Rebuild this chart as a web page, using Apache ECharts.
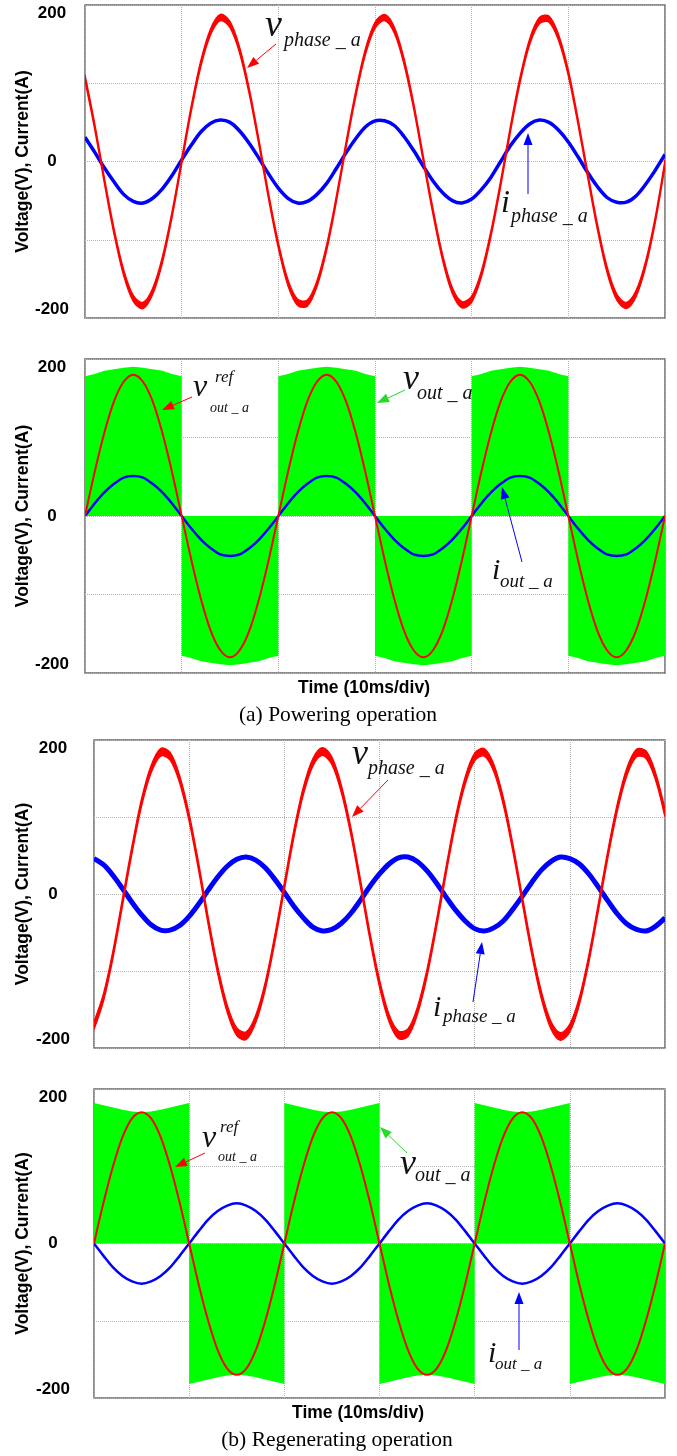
<!DOCTYPE html>
<html>
<head>
<meta charset="utf-8">
<script src="https://cdn.jsdelivr.net/npm/echarts@6/dist/echarts.min.js"></script>
<style>
html,body{margin:0;padding:0;background:#fff;}
#chart{width:677px;height:1456px;}
</style>
</head>
<body>
<div id="chart"></div>
<script>
// time samples (ms), one per millisecond
const timeMs = [0,1,2,3,4,5,6,7,8,9,10,11,12,13,14,15,16,17,18,19,20,21,22,23,24,25,26,27,28,29,30,31,32,33,34,35,36,37,38,39,40,41,42,43,44,45,46,47,48,49,50,51,52,53,54,55,56,57,58,59,60];

// (a) powering: phase voltage (centre of ripple band) / phase current
const vPhasePow = [107,45,-24,-89,-142,-175,-184,-166,-126,-68,
  0,68,126,166,184,175,142,89,24,-45,
  -107,-155,-180,-181,-156,-110,-48,21,86,140,
  174,184,168,128,71,3,-64,-123,-165,-183,
  -176,-144,-92,-28,41,104,153,180,182,158,
  113,51,-17,-83,-138,-173,-184,-169,-131,-74,
  -2];
const vPhasePowRipple = 4;
const iPhasePow = [31,12,-8,-26,-42,-51,-53,-47,-35,-18,
  2,21,38,49,53,50,39,23,4,-16,
  -34,-47,-53,-51,-42,-28,-9,11,29,44,
  52,52,46,32,14,-6,-25,-40,-50,-53,
  -48,-36,-20,0,20,36,48,53,50,40,
  25,6,-14,-32,-46,-52,-52,-44,-29,-11,
  9];
// (a) powering: output reference / output current
const vRefPow = [0,56,106,146,171,180,171,146,106,56,0,-56,-106,-146,-171,-180,-171,-146,-106,-56,
  0,56,106,146,171,180,171,146,106,56,0,-56,-106,-146,-171,-180,-171,-146,-106,-56,
  0,56,106,146,171,180,171,146,106,56,0,-56,-106,-146,-171,-180,-171,-146,-106,-56,0];
const iOutPow = [0,16,30,41,49,51,49,41,30,16,0,-16,-30,-41,-49,-51,-49,-41,-30,-16,
  0,16,30,41,49,51,49,41,30,16,0,-16,-30,-41,-49,-51,-49,-41,-30,-16,
  0,16,30,41,49,51,49,41,30,16,0,-16,-30,-41,-49,-51,-49,-41,-30,-16,0];
// PWM output envelope per 10 ms block (offsets 0..10 ms) and block polarity
const envPow = [178,181,185,187,189,190,189,187,185,181,178];
const signPow = [1,-1,1,-1,1,-1];

// (b) regenerating
const vPhaseReg = [-171,-134,-78,-10,58,119,162,184,179,149,
  99,35,-35,-99,-149,-179,-184,-162,-119,-58,
  10,78,134,171,185,173,136,81,14,-55,
  -116,-161,-183,-180,-151,-102,-38,31,96,147,
  178,184,164,121,61,-7,-74,-131,-170,-185,
  -174,-139,-84,-17,52,113,159,183,181,153,
  105];
const vPhaseRegRipple = 5;
const iPhaseReg = [46,38,24,7,-11,-27,-40,-47,-47,-41,
  -29,-13,5,22,36,45,48,44,34,19,
  2,-16,-31,-43,-48,-46,-38,-25,-8,10,
  26,39,47,48,42,30,14,-4,-21,-35,
  -45,-48,-44,-35,-20,-3,15,31,42,48,
  46,39,26,9,-9,-26,-39,-46,-48,-42,
  -31];
const vRefReg = [0,53,100,138,162,170,162,138,100,53,0,-53,-100,-138,-162,-170,-162,-138,-100,-53,
  0,53,100,138,162,170,162,138,100,53,0,-53,-100,-138,-162,-170,-162,-138,-100,-53,
  0,53,100,138,162,170,162,138,100,53,0,-53,-100,-138,-162,-170,-162,-138,-100,-53,0];
const iOutReg = [0,-16,-31,-42,-49,-52,-49,-42,-31,-16,0,16,31,42,49,52,49,42,31,16,
  0,-16,-31,-42,-49,-52,-49,-42,-31,-16,0,16,31,42,49,52,49,42,31,16,
  0,-16,-31,-42,-49,-52,-49,-42,-31,-16,0,16,31,42,49,52,49,42,31,16,0];
const envReg = [182,179,176,173,171,170,171,173,176,179,182];
const signReg = [1,-1,1,-1,1,-1];

const yTicks = [-200, 0, 200];

function pairs(vals){ return timeMs.map((t,i)=>[t, vals[i]]); }
function pwmBlocks(env, signs){
  const d = [];
  signs.forEach((s,k)=>{
    const t0 = 10*k;
    d.push([t0, 0]);
    env.forEach((e,j)=> d.push([t0+j, s*e]));
    d.push([t0+10, 0]);
  });
  return d;
}

const grids = [
  {left:85, right:12, top:5, height:313},
  {left:85, right:12, top:359, height:314},
  {left:94, right:12, top:740, height:308},
  {left:94, right:12, top:1089, height:309}
];
const labelMargin = [33,33,41,41];
const nameGap = [53,53,62,62];

const SANS = '"Liberation Sans", Arial, sans-serif';
const SERIF = '"Liberation Serif", "Times New Roman", serif';

const xAxes = grids.map((g,i)=>({
  type:'value', gridIndex:i, min:0, max:60, interval:10,
  axisLabel:{show:false}, axisTick:{show:false}, axisLine:{show:false},
  splitLine:{show:true, lineStyle:{color:'#b4b4b4', type:'dotted', width:1}}
}));
const yAxes = grids.map((g,i)=>({
  type:'value', gridIndex:i, min:-200, max:200, interval:100,
  axisTick:{show:false}, axisLine:{show:false},
  splitLine:{show:true, lineStyle:{color:'#b4b4b4', type:'dotted', width:1}},
  axisLabel:{
    formatter: v => yTicks.indexOf(v) >= 0 ? String(v) : '',
    fontFamily:SANS, fontWeight:'bold', fontSize:17, color:'#000',
    align:'center', margin:labelMargin[i],
    verticalAlignMaxLabel:'top', verticalAlignMinLabel:'bottom'
  },
  name:'Voltage(V), Current(A)', nameLocation:'middle', nameRotate:90, nameGap:nameGap[i],
  nameMoveOverlap:false,
  nameTextStyle:{fontFamily:SANS, fontWeight:'bold', fontSize:17.5, color:'#000'}
}));

// smooth trace drawn through the axis scales (api.coord)
function curveSeries(i, vals, color, w){
  return {type:'custom', xAxisIndex:i, yAxisIndex:i, data:pairs(vals), clip:true, z:3, silent:true,
    renderItem:(params, api)=>{
      if (params.dataIndex !== 0) return null;
      const pts = timeMs.map((t,k)=>api.coord([t, vals[k]]));
      return {type:'polyline', shape:{points:pts, smooth:0.33},
        style:{stroke:color, lineWidth:w, fill:null, lineJoin:'round'}};
    }};
}
// trace with switching ripple: a filled band of +/- ripple around the centre values
function bandSeries(i, vals, ripple, color){
  return {type:'custom', xAxisIndex:i, yAxisIndex:i, data:pairs(vals), clip:true, z:3, silent:true,
    renderItem:(params, api)=>{
      if (params.dataIndex !== 0) return null;
      const up = timeMs.map((t,k)=>api.coord([t, vals[k] + ripple]));
      const lo = timeMs.map((t,k)=>api.coord([t, vals[k] - ripple]));
      return {type:'group', children:[
        {type:'polyline', shape:{points:up, smooth:0.33}, style:{stroke:color, lineWidth:1.3, fill:null}},
        {type:'polyline', shape:{points:lo, smooth:0.33}, style:{stroke:color, lineWidth:1.3, fill:null}},
        {type:'polygon', shape:{points:up.concat(lo.slice().reverse()), smooth:0.33}, style:{fill:color, stroke:null}}
      ]};
    }};
}
function pwmSeries(i, env, signs){
  return {type:'line', xAxisIndex:i, yAxisIndex:i, data:pwmBlocks(env, signs), showSymbol:false,
    smooth:false, lineStyle:{width:0, color:'#00ff00'}, areaStyle:{color:'#00ff00', opacity:1},
    itemStyle:{color:'#00ff00'}, z:1, silent:true};
}

const series = [
  curveSeries(0, iPhasePow, '#0000ff', 3.5),
  bandSeries(0, vPhasePow, vPhasePowRipple, '#ff0000'),
  pwmSeries(1, envPow, signPow),
  curveSeries(1, iOutPow, '#0000ff', 2.5),
  curveSeries(1, vRefPow, '#ff0000', 2),
  curveSeries(2, iPhaseReg, '#0000ff', 5),
  bandSeries(2, vPhaseReg, vPhaseRegRipple, '#ff0000'),
  pwmSeries(3, envReg, signReg),
  curveSeries(3, iOutReg, '#0000ff', 2.5),
  curveSeries(3, vRefReg, '#ff0000', 2)
];

// annotation helpers (layout only)
function label(x, base, text, size){
  return {type:'text', x:x, y:base - 0.3*size, z:100,
    style:{text:text, font:'italic ' + size + 'px ' + SERIF, fill:'#111', align:'left', verticalAlign:'middle'}};
}
function arrow(x1,y1,x2,y2,color){
  const a = Math.atan2(y2-y1, x2-x1), L = 12, W = 4.5;
  const c = Math.cos(a), s = Math.sin(a);
  const bx = x2 - L*c, by = y2 - L*s;
  return [
    {type:'line', z:100, shape:{x1:x1,y1:y1,x2:bx,y2:by}, style:{stroke:color, lineWidth:1}},
    {type:'polygon', z:100, shape:{points:[[x2,y2],[bx - W*s, by + W*c],[bx + W*s, by - W*c]]}, style:{fill:color}}
  ];
}
function centerText(cx, cy, text, font){
  return {type:'text', x:cx, y:cy, z:100, style:{text:text, font:font, fill:'#000', align:'center', verticalAlign:'middle'}};
}

const graphic = [].concat(
  // (a) top
  [label(265,37,'v',38), label(284,47,'phase _ a',20)], arrow(276,44,247,68,'#ff0000'),
  [label(501,213,'i',32), label(511,223,'phase _ a',20)], arrow(528,194,528,133,'#0000ff'),
  // (a) bottom
  [label(193,397,'v',32), label(215,383,'ref',17), label(210,413,'out _ a',14)], arrow(192,397,162,410,'#ff0000'),
  [label(403,390,'v',36), label(417,400,'out _ a',20)], arrow(405,390,377,403,'#22dd22'),
  [label(492,580,'i',30), label(500,588,'out _ a',19)], arrow(522,562,502,487,'#0000ff'),
  [centerText(364,688,'Time (10ms/div)','bold 17.5px ' + SANS), centerText(338,715,'(a) Powering operation','21.5px ' + SERIF)],
  // (b) top
  [label(352,765,'v',36), label(368,775,'phase _ a',20)], arrow(388,780,352,817,'#ff0000'),
  [label(433,1017,'i',30), label(443,1023,'phase _ a',19)], arrow(473,1002,482,942,'#0000ff'),
  // (b) bottom
  [label(202,1148,'v',32), label(220,1133,'ref',17), label(218,1162,'out _ a',14)], arrow(205,1153,175,1167,'#ff0000'),
  [label(400,1175,'v',36), label(415,1182,'out _ a',20)], arrow(407,1153,380,1127,'#22dd22'),
  [label(488,1363,'i',30), label(495,1370,'out _ a',17)], arrow(519,1350,519,1292,'#0000ff'),
  [centerText(358,1413,'Time (10ms/div)','bold 17.5px ' + SANS), centerText(337,1440,'(b) Regenerating operation','21.5px ' + SERIF)]
);

const chart = echarts.init(document.getElementById('chart'), null, {renderer:'canvas'});
chart.setOption({
  animation:false,
  backgroundColor:'#fff',
  grid: grids.map(g=>Object.assign({show:true, borderColor:'#6a6a6a', borderWidth:1.5, backgroundColor:'transparent'}, g)),
  xAxis: xAxes,
  yAxis: yAxes,
  series: series,
  graphic: graphic
});
</script>
</body>
</html>
